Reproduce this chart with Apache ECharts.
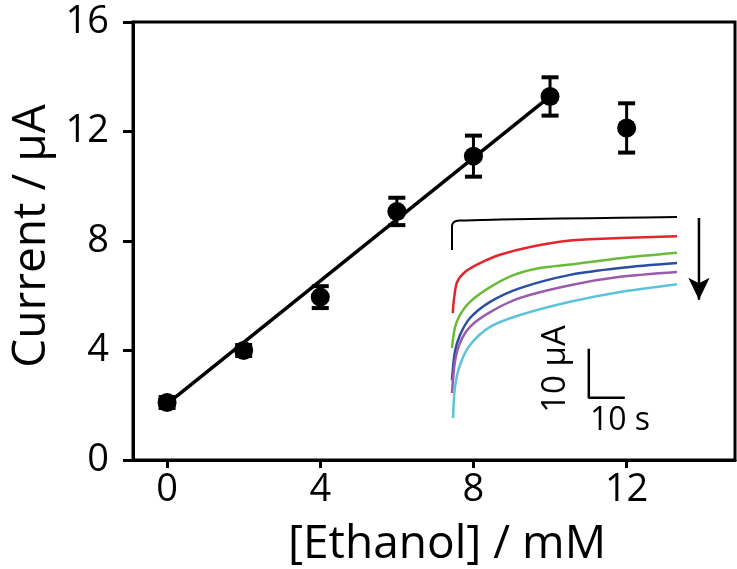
<!DOCTYPE html>
<html>
<head>
<meta charset="utf-8">
<script src="https://cdn.jsdelivr.net/npm/echarts@6/dist/echarts.min.js"></script>
<style>
html, body { margin: 0; padding: 0; background: #fff; }
#chart { width: 737px; height: 569px; }
</style>
</head>
<body>
<div id="chart"></div>
<script>
// calibration: current vs ethanol concentration
const ethanol = [0, 2, 4, 6, 8, 10, 12];
const current = [2.1, 4.0, 5.95, 9.08, 11.1, 13.28, 12.13];
const currentErr = [0.2, 0.2, 0.4, 0.5, 0.75, 0.7, 0.9];

// linear fit (0 - 10 mM)
const fitX = [0, 10];
const fitY = [2.05, 13.28];

const xTicks = [0, 4, 8, 12];
const yTicks = [0, 4, 8, 12, 16];

// inset chronoamperograms: [time / s, current / uA] (relative)
const blank = [[0, 38.8], [0, 43.7], [0.3, 44.3], [0.8, 44.6], [2.2, 44.8], [13.3, 45.0], [30, 45.2], [46.7, 45.35], [62.5, 45.5]];
const red = [[0.2, 25.9], [0.6, 29.0], [1.4, 32.2], [3.6, 34.3], [7.8, 36.1], [13.3, 37.8], [21.7, 39.4], [32.8, 40.7], [46.7, 41.2], [62.5, 41.6]];
const green = [[0, 18.8], [0.8, 22.9], [2.2, 25.5], [5, 28.2], [10.6, 31.2], [17.2, 33.7], [24.4, 35.1], [32.8, 35.8], [46.7, 37.1], [62.5, 38.2]];
const blue = [[0, 12.2], [0.8, 18.0], [2.2, 21.4], [5, 24.9], [10.6, 28.2], [18.9, 31.0], [32.8, 33.7], [46.7, 35.1], [62.5, 36.1]];
const purple = [[0, 9.6], [0.8, 15.9], [2.2, 19.8], [5, 23.1], [10.6, 26.1], [18.9, 29.0], [32.8, 31.6], [46.7, 33.3], [62.5, 34.3]];
const cyan = [[0.3, 4.5], [0.8, 10.6], [2.2, 15.3], [5, 19.4], [10.6, 23.1], [18.9, 25.5], [32.8, 28.2], [46.7, 30.2], [62.5, 31.8]];
const curveColors = ['#000000', '#e3262b', '#69bb3a', '#2a4ea0', '#9a5aae', '#5cc3dc'];

// scale bar (10 s, 10 uA) and arrow, inset units
const scaleBar = [[48, 8.6], [38, 8.6], [38, 18.6]];
const arrowX = 68.6;
const arrowY = [45.3, 28.6];

const FONT = '"Open Sans", "Noto Sans", sans-serif';

const chart = echarts.init(document.getElementById('chart'));

const curves = [blank, red, green, blue, purple, cyan].map((d, i) => ({
    type: 'line',
    xAxisIndex: 1,
    yAxisIndex: 1,
    data: d,
    smooth: 0.3,
    symbol: 'none',
    lineStyle: { color: curveColors[i], width: i === 0 ? 2 : 2.5 },
    z: 3
}));

const option = {
    animation: false,
    backgroundColor: '#fff',
    grid: [
        {
            left: 133, right: 2, top: 22, bottom: 109,
            show: true, borderColor: '#000', borderWidth: 3,
            outerBoundsMode: 'none'
        },
        {
            left: 434, top: 195, width: 288, height: 245,
            outerBoundsMode: 'none'
        }
    ],
    xAxis: [
        {
            type: 'value',
            min: -0.89,
            max: 14.83,
            splitLine: { show: false },
            axisLine: { onZero: false, lineStyle: { color: '#000', width: 3 } },
            axisTick: { customValues: xTicks, length: 8, lineStyle: { color: '#000', width: 3 } },
            axisLabel: { customValues: xTicks, margin: 11, fontSize: 38, color: '#000', fontFamily: FONT },
            name: '[Ethanol] / mM',
            nameLocation: 'middle',
            nameGap: 62,
            nameTextStyle: { fontSize: 46, color: '#000', fontFamily: FONT, padding: [0, 0, 0, 26] }
        },
        { type: 'value', gridIndex: 1, min: -5, max: 75, show: false }
    ],
    yAxis: [
        {
            type: 'value',
            min: 0,
            max: 16,
            interval: 4,
            splitLine: { show: false },
            axisLine: { onZero: false, lineStyle: { color: '#000', width: 3 } },
            axisTick: { customValues: yTicks, length: 10, lineStyle: { color: '#000', width: 3 } },
            axisLabel: { customValues: yTicks, margin: 24, fontSize: 38, color: '#000', fontFamily: FONT },
            name: 'Current / μA',
            nameLocation: 'middle',
            nameGap: 68,
            nameTextStyle: { fontSize: 46, color: '#000', fontFamily: FONT, padding: [0, 0, 0, 10] }
        },
        { type: 'value', gridIndex: 1, min: 0, max: 50, show: false }
    ],
    graphic: [
        {
            type: 'text', x: 556, y: 369, rotation: Math.PI / 2,
            style: { text: '10 μA', font: '33px ' + FONT, fill: '#000', align: 'center', verticalAlign: 'middle' }
        },
        {
            type: 'text', x: 620, y: 421,
            style: { text: '10 s', font: '32px ' + FONT, fill: '#000', align: 'center', verticalAlign: 'middle' }
        }
    ],
    series: [
        {
            type: 'line',
            data: fitX.map((x, i) => [x, fitY[i]]),
            symbol: 'none',
            lineStyle: { color: '#000', width: 3.5 },
            z: 2
        },
        {
            type: 'custom',
            data: ethanol.map((x, i) => [x, current[i], currentErr[i]]),
            renderItem: function (params, api) {
                const x = api.value(0), y = api.value(1), e = api.value(2);
                const top = api.coord([x, y + e]);
                const bot = api.coord([x, y - e]);
                const hw = 8.5;
                const stem = { stroke: '#000', lineWidth: 3 };
                const cap = { stroke: '#000', lineWidth: 4 };
                return {
                    type: 'group',
                    children: [
                        { type: 'line', shape: { x1: top[0], y1: top[1], x2: bot[0], y2: bot[1] }, style: stem },
                        { type: 'line', shape: { x1: top[0] - hw, y1: top[1], x2: top[0] + hw, y2: top[1] }, style: cap },
                        { type: 'line', shape: { x1: bot[0] - hw, y1: bot[1], x2: bot[0] + hw, y2: bot[1] }, style: cap }
                    ]
                };
            },
            z: 3
        },
        {
            type: 'scatter',
            data: ethanol.map((x, i) => [x, current[i]]),
            symbol: 'circle',
            symbolSize: 19,
            itemStyle: { color: '#000', opacity: 1 },
            z: 4
        },
        ...curves,
        {
            type: 'line',
            xAxisIndex: 1,
            yAxisIndex: 1,
            data: scaleBar,
            symbol: 'none',
            lineStyle: { color: '#000', width: 2.5 },
            z: 3
        },
        {
            type: 'line',
            xAxisIndex: 1,
            yAxisIndex: 1,
            symbol: 'none',
            showSymbol: true,
            data: [
                [arrowX, arrowY[0]],
                { value: [arrowX, arrowY[1]], symbol: 'arrow', symbolSize: [16, 22], symbolRotate: 180 }
            ],
            itemStyle: { color: '#000', opacity: 1 },
            lineStyle: { color: '#000', width: 2.5 },
            z: 3
        }
    ]
};

chart.setOption(option);
</script>
</body>
</html>
